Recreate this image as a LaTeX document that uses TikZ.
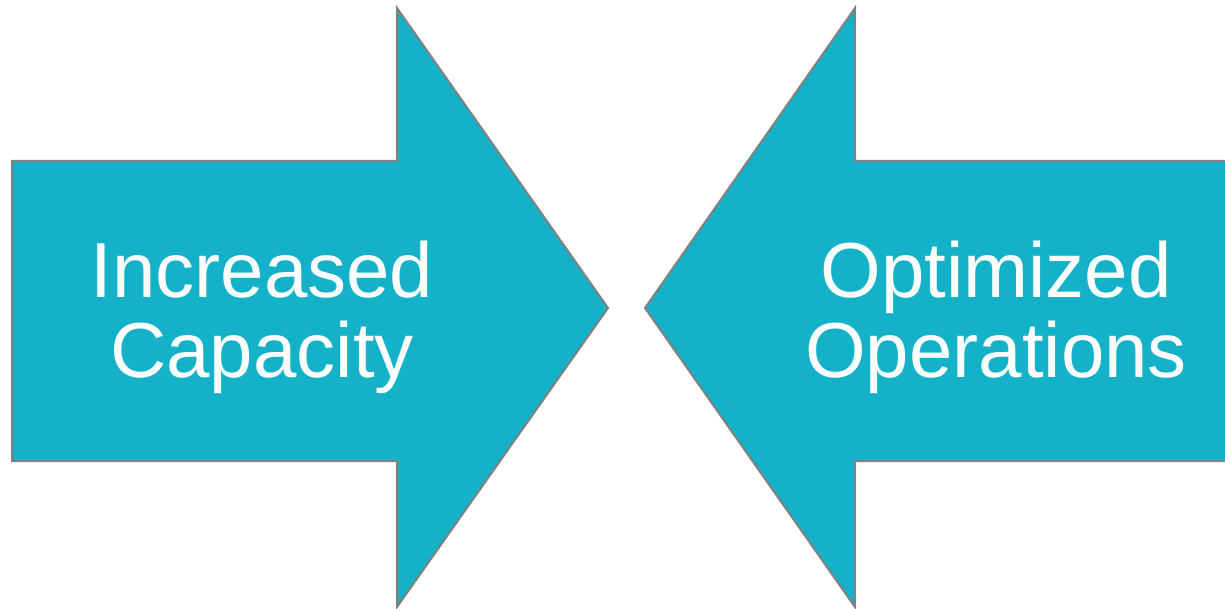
\documentclass[tikz,border=0pt]{standalone}
\usepackage{fontspec}
\setmainfont{Liberation Sans}
\definecolor{arrowteal}{RGB}{19,178,200}
\definecolor{edgegray}{RGB}{128,128,128}

\begin{document}
\begin{tikzpicture}[x=0.5pt,y=-0.5pt,
  bigarrow/.style={fill=arrowteal,draw=edgegray,line width=1pt,line join=miter},
  arrowtext/.style={text=white,align=center,inner sep=0pt,font=\fontsize{39}{40}\selectfont}]
  \useasboundingbox (0,0) rectangle (1225,609);
  \clip (0,0) rectangle (1225,609);
  \fill[white] (0,0) rectangle (1225,609);
  \draw[bigarrow] (12,161) -- (397,161) -- (397,8) -- (608,308) -- (397,607) -- (397,461) -- (12,461) -- cycle;
  \draw[bigarrow] (1235,161) -- (855,161) -- (855,8) -- (645,308) -- (855,607) -- (855,461) -- (1235,461) -- cycle;
  \node[arrowtext] (capacity) at (262,317) {Increased\\Capacity};
  \node[arrowtext] (operations) at (996,317) {Optimized\\Operations};
\end{tikzpicture}
\end{document}
